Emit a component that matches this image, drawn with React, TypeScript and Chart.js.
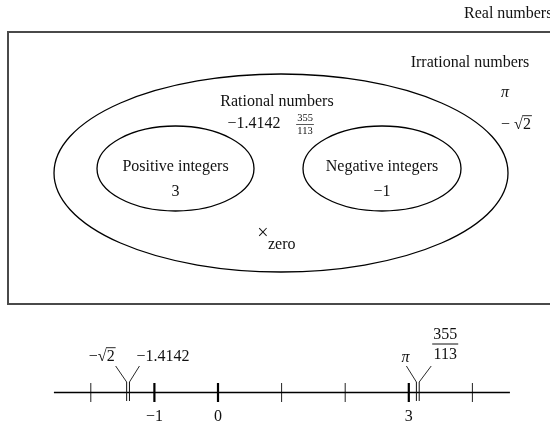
import React, { useEffect, useRef } from 'react';
import { Chart, registerables } from 'chart.js';
Chart.register(...registerables);

// ---------- data ----------
const setNames = ['Real numbers', 'Irrational numbers', 'Rational numbers', 'Positive integers', 'Negative integers'];
const irrationalMembers = ['π', '√2'];
const rationalMembers = ['−1.4142', '355', '113'];
const positiveMembers = ['3'];
const negativeMembers = ['−1'];
const zeroLabel = 'zero';

const tickValues = [-2, -1, 0, 1, 2, 3, 4];
const labeledTickValues = [-1, 0, 3];
const tickLabels = ['−1', '0', '3'];
const lineRange = [-2.58, 4.59];
const markLabels = ['−√2', '−1.4142', 'π', '355/113'];
const markValues = [-1.41421356, -1.4142, 3.14159265, 3.14159292];

// ---------- layout ----------
const W = 550;
const H = 425;
const FONT = '"Liberation Serif", "Times New Roman", serif';
const RECT = { x: 8, y: 32, w: 570, h: 272 };
const ELLIPSES = [
  { cx: 281, cy: 173, rx: 227, ry: 99 },
  { cx: 175.5, cy: 168.5, rx: 78.5, ry: 42.5 },
  { cx: 382, cy: 168.5, rx: 79, ry: 42.5 },
];
const LINE_Y = 392.5;
const NUM_ZERO_PX = 218;
const NUM_UNIT_PX = 63.6;
const TICK_HALF = 9.5;
const MARK_SHIFT = [-1.4, 1.4, -1.4, 1.4];
const CONN_DX = [-11, 10, -10, 12];
const CONN_TOP = 366;
const MARK_TOP = 382;
const MARK_BOTTOM = 401;
const LABEL_BASE = 360.5;

function drawRadical(ctx: CanvasRenderingContext2D, prefix: string, digit: string, x: number, base: number, size: number, align: 'left' | 'center' | 'right') {
  ctx.save();
  ctx.font = `${size}px ${FONT}`;
  ctx.textAlign = 'left';
  ctx.textBaseline = 'alphabetic';
  const wPre = ctx.measureText(prefix).width;
  const wRad = ctx.measureText('√').width;
  const wDig = ctx.measureText(digit).width;
  const total = wPre + wRad + wDig;
  let x0 = x;
  if (align === 'center') x0 = x - total / 2;
  if (align === 'right') x0 = x - total;
  ctx.fillText(prefix, x0, base);
  ctx.fillText('√', x0 + wPre, base);
  ctx.fillText(digit, x0 + wPre + wRad, base);
  ctx.beginPath();
  ctx.lineWidth = 0.9;
  const by = base - size * 0.8;
  ctx.moveTo(x0 + wPre + wRad * 0.92, by);
  ctx.lineTo(x0 + total + 1, by);
  ctx.stroke();
  ctx.restore();
}

function drawFraction(ctx: CanvasRenderingContext2D, num: string, den: string, cx: number, yNum: number, yBar: number, yDen: number, size: number) {
  ctx.save();
  ctx.font = `${size}px ${FONT}`;
  ctx.textAlign = 'center';
  ctx.textBaseline = 'middle';
  ctx.fillText(num, cx, yNum);
  ctx.fillText(den, cx, yDen);
  const w = Math.max(ctx.measureText(num).width, ctx.measureText(den).width);
  ctx.beginPath();
  ctx.lineWidth = size > 12 ? 1 : 0.7;
  ctx.moveTo(cx - w / 2 - 1, yBar);
  ctx.lineTo(cx + w / 2 + 1, yBar);
  ctx.stroke();
  ctx.restore();
}

const diagramPlugin = {
  id: 'diagram',
  beforeDatasetsDraw(chart: any) {
    const ctx: CanvasRenderingContext2D = chart.ctx;
    const sx = chart.scales.x;
    const sy = chart.scales.y;
    const px = (v: number) => sx.getPixelForValue(v);
    const py = (v: number) => sy.getPixelForValue(v);
    ctx.save();
    ctx.strokeStyle = '#4a4a4a';
    ctx.lineWidth = 2;
    ctx.strokeRect(px(RECT.x), py(RECT.y), px(RECT.x + RECT.w) - px(RECT.x), py(RECT.y + RECT.h) - py(RECT.y));
    ctx.strokeStyle = '#000';
    ctx.lineWidth = 1.3;
    ELLIPSES.forEach((e) => {
      ctx.beginPath();
      ctx.ellipse(px(e.cx), py(e.cy), px(e.cx + e.rx) - px(e.cx), Math.abs(py(e.cy + e.ry) - py(e.cy)), 0, 0, Math.PI * 2);
      ctx.stroke();
    });
    ctx.restore();
  },
  afterDatasetsDraw(chart: any) {
    const ctx: CanvasRenderingContext2D = chart.ctx;
    const sx = chart.scales.x;
    const sy = chart.scales.y;
    const sn = chart.scales.xn;
    const px = (v: number) => sx.getPixelForValue(v);
    const py = (v: number) => sy.getPixelForValue(v);
    ctx.save();
    ctx.fillStyle = '#111';
    ctx.strokeStyle = '#111';
    ctx.textBaseline = 'middle';
    ctx.font = `16px ${FONT}`;

    ctx.textAlign = 'left';
    ctx.fillText(setNames[0], px(464), py(14));

    ctx.textAlign = 'center';
    ctx.fillText(setNames[1], px(470), py(63));
    ctx.fillText(setNames[2], px(277), py(102));
    ctx.fillText(setNames[3], px(ELLIPSES[1].cx), py(167));
    ctx.fillText(setNames[4], px(ELLIPSES[2].cx), py(167));

    ctx.fillText(rationalMembers[0], px(254), py(124));
    drawFraction(ctx, rationalMembers[1], rationalMembers[2], px(305), py(118), py(124.5), py(131), 10.5);
    ctx.fillText(positiveMembers[0], px(ELLIPSES[1].cx), py(192));
    ctx.fillText(negativeMembers[0], px(ELLIPSES[2].cx), py(192));
    ctx.save();
    ctx.font = `italic 16px ${FONT}`;
    ctx.fillText(irrationalMembers[0], px(505), py(93));
    ctx.restore();
    drawRadical(ctx, '− ', '2', px(516), py(128.5), 16, 'center');

    ctx.save();
    ctx.font = `20px ${FONT}`;
    ctx.fillText('×', px(263), py(234));
    ctx.restore();
    ctx.textAlign = 'left';
    ctx.fillText(zeroLabel, px(268), py(245));

    // number line tick labels
    ctx.textAlign = 'center';
    labeledTickValues.forEach((v, i) => {
      ctx.fillText(tickLabels[i], sn.getPixelForValue(v), py(LINE_Y + 24));
    });

    // special marks with leader lines and labels
    markValues.forEach((v, i) => {
      const mx = sn.getPixelForValue(v) + MARK_SHIFT[i];
      ctx.beginPath();
      ctx.lineWidth = 1;
      ctx.moveTo(mx, py(MARK_TOP));
      ctx.lineTo(mx, py(MARK_BOTTOM));
      ctx.stroke();
      const tx = mx + CONN_DX[i];
      ctx.beginPath();
      ctx.lineWidth = 0.9;
      ctx.moveTo(tx, py(CONN_TOP));
      ctx.lineTo(mx, py(MARK_TOP));
      ctx.stroke();
      const lbl = markLabels[i];
      const base = py(LABEL_BASE);
      if (lbl.includes('√')) {
        const parts = lbl.split('√');
        drawRadical(ctx, parts[0], parts[1], tx - 1, base, 16, 'right');
      } else if (lbl.includes('/')) {
        const [n, d] = lbl.split('/');
        drawFraction(ctx, n, d, tx + 14, py(335), py(344), py(355), 16);
      } else if (lbl === 'π') {
        ctx.save();
        ctx.font = `italic 16px ${FONT}`;
        ctx.textAlign = 'center';
        ctx.textBaseline = 'alphabetic';
        ctx.fillText(lbl, tx - 1, py(LABEL_BASE + 1.5));
        ctx.restore();
      } else {
        ctx.save();
        ctx.textAlign = 'left';
        ctx.textBaseline = 'alphabetic';
        ctx.fillText(lbl, tx - 3, base);
        ctx.restore();
      }
    });
    ctx.restore();
  },
};

export default function App() {
  const ref = useRef<HTMLCanvasElement>(null);
  useEffect(() => {
    document.body.style.margin = '0';
    const canvas = ref.current!;
    const minorTicks = tickValues.filter((v) => !labeledTickValues.includes(v));
    const chart = new Chart(canvas, {
      type: 'scatter',
      data: {
        datasets: [
          {
            type: 'line',
            data: lineRange.map((v) => ({ x: v, y: LINE_Y })),
            xAxisID: 'xn',
            yAxisID: 'y',
            borderColor: '#000',
            borderWidth: 1.3,
            pointRadius: 0,
          } as any,
          {
            data: minorTicks.map((v) => ({ x: v, y: LINE_Y })),
            xAxisID: 'xn',
            yAxisID: 'y',
            pointStyle: 'line',
            rotation: 90,
            pointRadius: TICK_HALF,
            borderColor: '#222',
            borderWidth: 1,
          } as any,
          {
            data: labeledTickValues.map((v) => ({ x: v, y: LINE_Y })),
            xAxisID: 'xn',
            yAxisID: 'y',
            pointStyle: 'line',
            rotation: 90,
            pointRadius: TICK_HALF,
            borderColor: '#000',
            borderWidth: 2.2,
          } as any,
        ],
      },
      options: {
        responsive: false,
        animation: false,
        events: [],
        layout: { padding: 0, autoPadding: false },
        plugins: { legend: { display: false }, tooltip: { enabled: false } },
        scales: {
          x: { type: 'linear', min: 0, max: W, display: false },
          y: { type: 'linear', min: 0, max: H, reverse: true, display: false },
          xn: {
            type: 'linear',
            axis: 'x',
            position: 'bottom',
            min: -NUM_ZERO_PX / NUM_UNIT_PX,
            max: (W - NUM_ZERO_PX) / NUM_UNIT_PX,
            display: false,
          },
        },
      } as any,
      plugins: [diagramPlugin],
    });
    return () => chart.destroy();
  }, []);
  return (
    <div style={{ position: 'absolute', left: 0, top: 0, width: W, height: H }}>
      <canvas ref={ref} width={W} height={H} style={{ display: 'block', width: W, height: H }} />
    </div>
  );
}
